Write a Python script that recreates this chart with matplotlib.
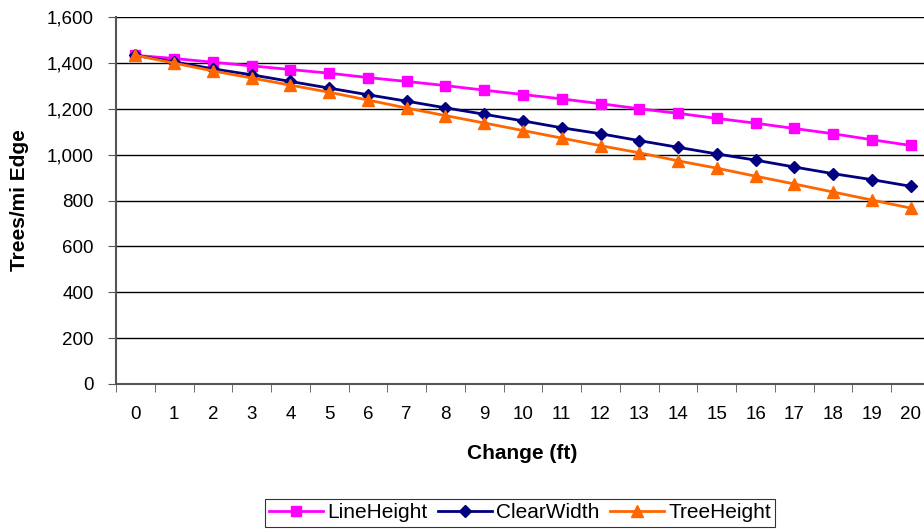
import matplotlib.pyplot as plt
import numpy as np

plt.rcParams['font.family'] = ['Liberation Sans', 'DejaVu Sans']

change_ft = list(range(21))
line_height = [1433, 1419, 1403, 1387, 1371, 1355, 1336, 1319, 1301, 1281, 1262,
               1243, 1222, 1200, 1180, 1158, 1137, 1114, 1091, 1065, 1040]
clear_width = [1433, 1404, 1374, 1348, 1319, 1290, 1261, 1233, 1204, 1176, 1147,
               1117, 1091, 1061, 1032, 1003, 976, 946, 917, 891, 862]
tree_height = [1433, 1399, 1365, 1334, 1303, 1272, 1238, 1203, 1170, 1138, 1105,
               1072, 1039, 1008, 973, 941, 906, 872, 837, 802, 767]
y_ticks = [0, 200, 400, 600, 800, 1000, 1200, 1400, 1600]

W, H = 924, 529
fig = plt.figure(figsize=(W / 100, H / 100), dpi=100)
ax = fig.add_axes([116 / W, 1 - 384 / H, (930 - 116) / W, (384 - 17) / H])

ax.plot(change_ft, line_height, color='#FF00FF', marker='s', markersize=7.5,
        linewidth=2, label='LineHeight')
ax.plot(change_ft, clear_width, color='#000080', marker='D', markersize=6.5,
        linewidth=2, label='ClearWidth')
ax.plot(change_ft, tree_height, color='#FF6600', marker='^', markersize=8.5,
        linewidth=2, label='TreeHeight')

ax.set_xlim(-0.5, 20.5)
ax.set_ylim(0, 1600)
ax.set_yticks(y_ticks)
ax.set_yticklabels([f'{v:,}' for v in y_ticks])
ax.set_xticks(change_ft)
ax.set_xticks(np.arange(-0.5, 21, 1), minor=True)
ax.tick_params(axis='x', which='major', length=0, pad=16, labelsize=13.5)
ax.tick_params(axis='x', which='minor', length=6, direction='out', color='#555555')
ax.tick_params(axis='y', length=6, direction='out', color='#555555', labelsize=13.5,
               pad=10)

ax.grid(axis='y', color='black', linewidth=1)
ax.set_axisbelow(True)
for s in ['top', 'right']:
    ax.spines[s].set_visible(False)
for s in ['left', 'bottom']:
    ax.spines[s].set_color('#555555')
    ax.spines[s].set_linewidth(1.5)

ax.set_xlabel('Change (ft)', fontsize=15, fontweight='bold')
ax.set_ylabel('Trees/mi Edge', fontsize=15, fontweight='bold')
ax.xaxis.set_label_coords((522 - 116) / 814, -(444 - 384) / 367)
ax.yaxis.set_label_coords(-(116 - 29) / 814, 0.5)

leg = fig.legend(loc='center', bbox_to_anchor=(520 / W, 1 - 513 / H), ncol=3,
                 fontsize=15, frameon=True, fancybox=False, edgecolor='black',
                 handlelength=2.6, columnspacing=0.5, handletextpad=0.2,
                 borderpad=0.2, borderaxespad=0)
leg.get_frame().set_linewidth(0.8)

fig.savefig('out.png', dpi=100)
